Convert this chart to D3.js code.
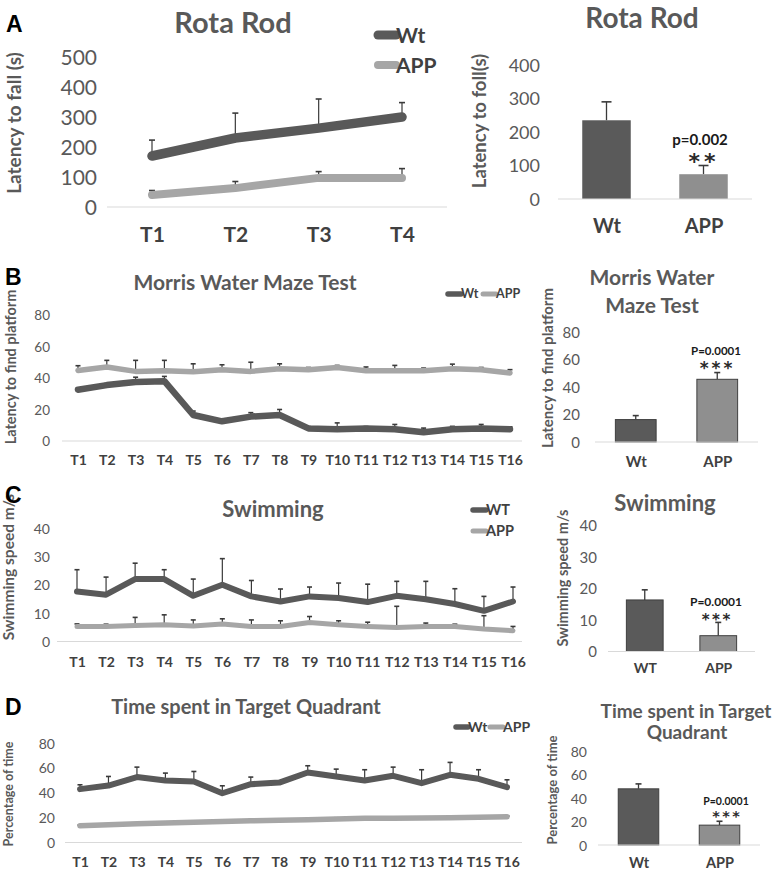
<!DOCTYPE html>
<html><head><meta charset="utf-8">
<script src="https://cdn.jsdelivr.net/npm/d3@7"></script>
<style>body{margin:0;background:#fff}svg{display:block}</style>
</head><body>
<svg id="fig" width="777" height="871"></svg>
<script>
// ---------------- DATA ----------------
const trials4 = ["T1","T2","T3","T4"];
const trials16 = ["T1","T2","T3","T4","T5","T6","T7","T8","T9","T10","T11","T12","T13","T14","T15","T16"];
const groupsWt = ["Wt","APP"];
const groupsWT = ["WT","APP"];

// A: Rota Rod (latency to fall, s)
const rotaWt     = [170, 230, 263, 300];
const rotaWtErr  = [53, 83, 97, 48];
const rotaApp    = [40, 63, 97, 97];
const rotaAppErr = [15, 22, 21, 31];
const rotaBar    = [235, 74];
const rotaBarErr = [55, 26];
const rotaTicks  = [0, 100, 200, 300, 400, 500];
const rotaBarTicks = [0, 100, 200, 300, 400];

// B: Morris Water Maze (latency to find platform)
const mwmWt     = [32.5,35.5,37.5,38,16.5,12.5,15.5,16.5,8,7.5,8,7.5,5.5,7.5,8,7.5];
const mwmWtErr  = [1,1,3,3,2.5,1.2,2.5,3.5,1.2,4,1.2,3,2.7,1.8,2.5,1.5];
const mwmApp    = [44.8,47,44.2,44.6,44,45.3,44.2,45.9,45.3,46.7,44.6,44.6,44.6,45.9,45.3,43.2];
const mwmAppErr = [3,4.2,7,6.6,5,3.1,5.8,3.1,1.4,1.3,2.4,3.4,1.7,2.9,1.4,2.1];
const mwmBar    = [16.3, 45.6];
const mwmBarErr = [2.9, 4.9];
const pctTicks  = [0, 20, 40, 60, 80];

// C: Swimming speed
const swimWt     = [17.6,16.5,22,22,16.1,20,15.9,14.1,15.9,15.3,13.9,16.1,14.9,13.2,10.8,14.1];
const swimWtErr  = [7.7,6.2,5.6,3.3,5.9,9.2,5.6,4.4,3.3,5.3,6.3,5.1,6.3,5.4,5.1,5.1];
const swimApp    = [5.3,5.3,5.6,5.9,5.5,6.2,5.3,5.3,6.7,5.9,5.3,4.9,5.3,5.3,4.4,3.8];
const swimAppErr = [0.9,0.8,2.9,3.5,2.1,1.8,2.3,2,2.1,1.4,1.5,7.5,1.2,0.8,4.7,1.5];
const swimBar    = [16.3, 5];
const swimBarErr = [3.2, 4.2];
const swimTicks  = [0, 10, 20, 30, 40];

// D: Time spent in target quadrant (%)
const tgtWt     = [42.9,45.8,52.6,49.9,49.1,39.6,46.9,48.2,56.3,53.1,49.9,53.6,47.7,54.4,51.2,44.5];
const tgtWtErr  = [3.5,7.3,8,5.9,8,6,5.7,1,5.4,5.9,8.6,7,10.8,10,7.3,5.9];
const tgtApp    = [13.5,14.3,15,15.6,16.3,16.9,17.5,17.8,18.3,18.9,19.4,19.4,19.6,19.9,20.3,20.7];
const tgtAppErr = [0.5,0.5,0.5,0.5,0.5,1,1,0.5,1,1,1,0.5,0.5,0.5,0.5,0.5];
const tgtBar    = [47.8, 16.9];
const tgtBarErr = [4.2, 3.3];

// ---------------- STYLE ----------------
const svg = d3.select("#fig");
const FONT = "Lato, 'Open Sans', sans-serif";
const C_WT = "#595959", C_APP = "#a6a6a6", C_ERR = "#3a3a3a", C_TXT = "#595959", C_LAB = "#404040";
const BAR_WT = "#5a5a5a", BAR_APP = "#8f8f8f", BAR_STROKE = "#3f3f3f";

function txt(g, x, y, s, fs, o = {}) {
  return g.append("text").attr("x", x).attr("y", y).text(s)
    .attr("font-family", o.family || FONT).attr("font-size", fs)
    .attr("font-weight", o.bold ? "bold" : "normal")
    .attr("fill", o.fill || C_TXT).attr("text-anchor", o.anchor || "middle");
}
function yLabel(g, cx, cy, s, fs) {
  g.append("text").attr("transform", `translate(${cx},${cy}) rotate(-90)`)
    .attr("dy", "0.35em").attr("text-anchor", "middle")
    .attr("font-family", FONT).attr("font-size", fs).attr("font-weight", "bold")
    .attr("fill", C_TXT).text(s);
}
function stars(g, cx, cy, s, fs, ls) {
  txt(g, cx + ls / 2, cy + fs * 0.6, s, fs, {bold: true, fill: "#2a2a2a", family: "'DejaVu Sans', sans-serif"})
    .attr("letter-spacing", ls);
}
function yAxis(g, y, ticks, tickX, fs) {
  const a = g.append("g").attr("transform", `translate(${tickX},0)`)
    .call(d3.axisLeft(y).tickValues(ticks).tickSize(0).tickPadding(0));
  a.select(".domain").remove();
  a.selectAll("text").attr("font-family", FONT).attr("font-size", fs).attr("fill", C_TXT).attr("dy", "0.36em");
}
function xAxis(g, x, labY, fs) {
  const a = g.append("g").attr("transform", `translate(0,${labY})`)
    .call(d3.axisBottom(x).tickSize(0).tickPadding(0));
  a.select(".domain").remove();
  a.selectAll("text").attr("y", 0).attr("dy", 0).attr("font-family", FONT)
    .attr("font-size", fs).attr("font-weight", "bold").attr("fill", C_LAB);
}

function linePanel(o) {
  const g = svg.append("g");
  const x = d3.scalePoint().domain(o.cats).range([o.x0, o.x1]);
  const y = d3.scaleLinear().domain([0, o.yMax]).range([o.y0, o.yT]);
  g.append("line").attr("x1", o.bx0).attr("x2", o.bx1).attr("y1", y(0)).attr("y2", y(0))
    .attr("stroke", "#d9d9d9").attr("stroke-width", 1.2);
  yAxis(g, y, o.ticks, o.tickX, o.tickFs);
  xAxis(g, x, o.xLabY, o.xLabFs);
  o.series.forEach(s => {
    const eg = g.append("g").attr("stroke", C_ERR).attr("stroke-width", 1.2);
    o.cats.forEach((c, i) => {
      const top = y(s.vals[i] + s.errs[i]);
      eg.append("line").attr("x1", x(c)).attr("x2", x(c)).attr("y1", y(s.vals[i])).attr("y2", top);
      eg.append("line").attr("x1", x(c) - o.capW).attr("x2", x(c) + o.capW).attr("y1", top).attr("y2", top).attr("stroke-width", 1.6);
    });
  });
  o.series.slice().reverse().forEach(s => {
    g.append("path").datum(s.vals)
      .attr("d", d3.line().x((d, i) => x(o.cats[i])).y(d => y(d)))
      .attr("fill", "none").attr("stroke", s.color).attr("stroke-width", s.width)
      .attr("stroke-linecap", "round").attr("stroke-linejoin", "round");
  });
  return g;
}

function barPanel(o) {
  const g = svg.append("g");
  const x = d3.scaleBand().domain(o.cats).range([o.bx0, o.bx1]).paddingInner(o.pi || 0.5).paddingOuter((o.pi || 0.5) / 2);
  const y = d3.scaleLinear().domain([0, o.yMax]).range([o.y0, o.yT]);
  yAxis(g, y, o.ticks, o.tickX, o.tickFs);
  xAxis(g, d3.scalePoint().domain(o.cats).range([x(o.cats[0]) + x.bandwidth() / 2, x(o.cats[1]) + x.bandwidth() / 2]), o.xLabY, o.xLabFs);
  const eg = g.append("g").attr("stroke", C_ERR).attr("stroke-width", 1.3);
  o.cats.forEach((c, i) => {
    const cx = x(c) + x.bandwidth() / 2, top = y(o.vals[i] + o.errs[i]);
    eg.append("line").attr("x1", cx).attr("x2", cx).attr("y1", y(o.vals[i])).attr("y2", top);
    eg.append("line").attr("x1", cx - o.capW).attr("x2", cx + o.capW).attr("y1", top).attr("y2", top).attr("stroke-width", 1.6);
  });
  g.selectAll("rect.bar").data(o.vals).join("rect").attr("class", "bar")
    .attr("x", (d, i) => x(o.cats[i])).attr("width", x.bandwidth())
    .attr("y", d => y(d)).attr("height", d => y(0) - y(d))
    .attr("fill", (d, i) => i === 0 ? BAR_WT : BAR_APP)
    .attr("stroke", o.stroke ? BAR_STROKE : "none").attr("stroke-width", 1);
  g.append("line").attr("x1", o.bx0).attr("x2", o.bx1).attr("y1", y(0)).attr("y2", y(0))
    .attr("stroke", "#d9d9d9").attr("stroke-width", 1.2);
  return {g, x, y};
}
function legendItem(g, x0, x1, y, w, color, label, fs, tx, ty) {
  g.append("line").attr("x1", x0).attr("x2", x1).attr("y1", y).attr("y2", y)
    .attr("stroke", color).attr("stroke-width", w).attr("stroke-linecap", "round");
  txt(g, tx, ty, label, fs, {bold: true, fill: C_LAB, anchor: "start"});
}

// ---------------- PANEL A ----------------
const ga = linePanel({cats: trials4, yMax: 500, ticks: rotaTicks, x0: 152, x1: 402, y0: 207, yT: 57,
  bx0: 107, bx1: 447, tickX: 97, tickFs: 21, xLabY: 242, xLabFs: 21, capW: 3,
  series: [{vals: rotaWt, errs: rotaWtErr, color: C_WT, width: 9.5}, {vals: rotaApp, errs: rotaAppErr, color: C_APP, width: 8}]});
txt(ga, 233, 33, "Rota Rod", 29, {bold: true});
yLabel(ga, 14, 123, "Latency to fall (s)", 19);
legendItem(ga, 378, 396, 35, 9, C_WT, groupsWt[0], 21, 396, 43);
legendItem(ga, 378, 396, 65, 8, C_APP, groupsWt[1], 21, 396, 73);
txt(svg, 6, 32, "A", 23, {bold: true, fill: "#000", anchor: "start", family: "'Liberation Sans', Arial, sans-serif"});

const ba = barPanel({cats: groupsWt, vals: rotaBar, errs: rotaBarErr, yMax: 400, ticks: rotaBarTicks,
  y0: 199, yT: 65, bx0: 558, bx1: 752, tickX: 540, tickFs: 18, xLabY: 233, xLabFs: 20, capW: 5, stroke: false});
txt(ba.g, 642, 28, "Rota Rod", 28, {bold: true});
yLabel(ba.g, 480, 121, "Latency to foll(s)", 18.5);
txt(ba.g, 700, 145, "p=0.002", 15, {bold: true, fill: "#1a1a1a"});
stars(ba.g, 702, 156, "**", 22, 4);

// ---------------- PANEL B ----------------
const gb = linePanel({cats: trials16, yMax: 80, ticks: pctTicks, x0: 78, x1: 510, y0: 441, yT: 315,
  bx0: 62, bx1: 522, tickX: 50, tickFs: 13.5, xLabY: 465, xLabFs: 14, capW: 2.5,
  series: [{vals: mwmWt, errs: mwmWtErr, color: C_WT, width: 6.5}, {vals: mwmApp, errs: mwmAppErr, color: C_APP, width: 5.5}]});
txt(gb, 245, 290, "Morris Water Maze Test", 21, {bold: true});
yLabel(gb, 11, 367, "Latency to find platform", 14.5);
legendItem(gb, 448, 461, 294, 5.5, C_WT, groupsWt[0], 12.5, 461, 298);
legendItem(gb, 483, 496, 294, 5, C_APP, groupsWt[1], 12.5, 496, 298);
txt(svg, 5, 285, "B", 23, {bold: true, fill: "#000", anchor: "start", family: "'Liberation Sans', Arial, sans-serif"});

const bb = barPanel({cats: groupsWt, vals: mwmBar, errs: mwmBarErr, yMax: 80, ticks: pctTicks,
  y0: 442, yT: 332, bx0: 595, bx1: 758, tickX: 580, tickFs: 15, xLabY: 467, xLabFs: 15, capW: 3, stroke: true});
txt(bb.g, 652, 285, "Morris Water", 21, {bold: true});
txt(bb.g, 652, 313, "Maze Test", 21, {bold: true});
yLabel(bb.g, 548, 368, "Latency to find platform", 15);
txt(bb.g, 716, 355, "P=0.0001", 11.5, {bold: true, fill: "#1a1a1a"});
stars(bb.g, 716, 364, "***", 17, 3);

// ---------------- PANEL C ----------------
const gc = linePanel({cats: trials16, yMax: 40, ticks: swimTicks, x0: 77, x1: 513, y0: 641.5, yT: 528,
  bx0: 57, bx1: 522, tickX: 50, tickFs: 14, xLabY: 667, xLabFs: 14, capW: 2.5,
  series: [{vals: swimWt, errs: swimWtErr, color: C_WT, width: 6}, {vals: swimApp, errs: swimAppErr, color: C_APP, width: 5}]});
txt(gc, 273, 517, "Swimming", 22, {bold: true});
yLabel(gc, 9, 567, "Swimming speed m/s", 15.5);
legendItem(gc, 473, 486, 510, 5.5, C_WT, groupsWT[0], 14.5, 486, 515);
legendItem(gc, 473, 486, 531, 5, C_APP, groupsWT[1], 14.5, 486, 536);
txt(svg, 5, 503, "C", 23, {bold: true, fill: "#000", anchor: "start", family: "'Liberation Sans', Arial, sans-serif"});

const bc = barPanel({cats: groupsWT, vals: swimBar, errs: swimBarErr, yMax: 40, ticks: swimTicks,
  y0: 651.5, yT: 525, bx0: 608, bx1: 755, tickX: 597, tickFs: 15, xLabY: 673, xLabFs: 14, capW: 3, stroke: true});
txt(bc.g, 665, 511, "Swimming", 22, {bold: true});
yLabel(bc.g, 563, 578, "Swimming speed m/s", 14.5);
txt(bc.g, 716, 606, "P=0.0001", 12, {bold: true, fill: "#1a1a1a"});
stars(bc.g, 716, 616, "***", 15, 2.5);

// ---------------- PANEL D ----------------
const gd = linePanel({cats: trials16, yMax: 80, ticks: pctTicks, x0: 80, x1: 507, y0: 842.5, yT: 743,
  bx0: 65, bx1: 522, tickX: 55, tickFs: 14, xLabY: 867, xLabFs: 14, capW: 2.5,
  series: [{vals: tgtWt, errs: tgtWtErr, color: C_WT, width: 6}, {vals: tgtApp, errs: tgtAppErr, color: C_APP, width: 5.5}]});
txt(gd, 246, 714, "Time spent in Target Quadrant", 20, {bold: true});
yLabel(gd, 9, 794, "Percentage of time", 12.5);
legendItem(gd, 456, 468, 727, 5.5, C_WT, groupsWt[0], 14, 468, 732);
legendItem(gd, 490, 503, 727, 5, C_APP, groupsWt[1], 14, 503, 732);
txt(svg, 5, 715, "D", 23, {bold: true, fill: "#000", anchor: "start", family: "'Liberation Sans', Arial, sans-serif"});

const bd = barPanel({cats: groupsWt, vals: tgtBar, errs: tgtBarErr, yMax: 80, ticks: pctTicks,
  y0: 845, yT: 751, bx0: 598, bx1: 760, tickX: 587, tickFs: 14, xLabY: 868, xLabFs: 14.5, capW: 3, stroke: true});
txt(bd.g, 686, 718, "Time spent in Target", 19, {bold: true});
txt(bd.g, 687, 739, "Quadrant", 19, {bold: true});
yLabel(bd.g, 552, 790, "Percentage of time", 13);
txt(bd.g, 726, 805, "P=0.0001", 10.5, {bold: true, fill: "#1a1a1a"});
stars(bd.g, 726, 812, "***", 14.5, 2.5);
</script>
</body></html>
